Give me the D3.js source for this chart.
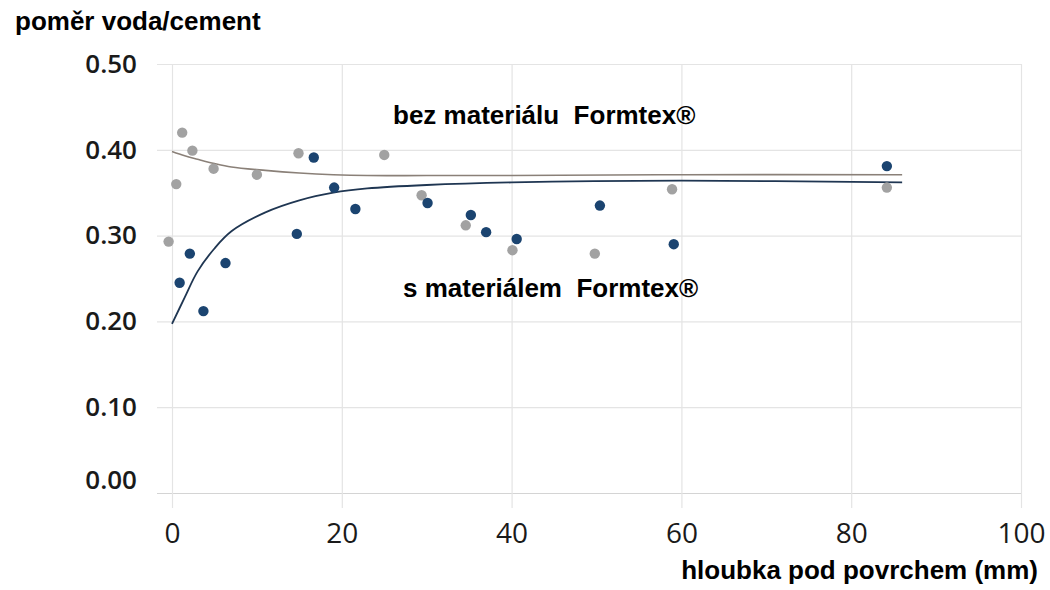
<!DOCTYPE html>
<html>
<head>
<meta charset="utf-8">
<script src="https://cdn.jsdelivr.net/npm/d3@7"></script>
<style>
    body { margin: 0; background: #fff; }
    svg { display: block; }
</style>
</head>
<body>
<div id="chart"></div>
<script>
/*
    Measured values: depth below surface (mm) and water/cement ratio
*/
var depthWithout = [-0.4, 0.5, 1.2, 2.4, 4.9, 10.0, 14.9, 25.0, 29.4, 34.6, 40.1, 49.8, 58.9, 84.2];
var ratioWithout = [0.293, 0.360, 0.420, 0.399, 0.378, 0.371, 0.396, 0.394, 0.347, 0.312, 0.283, 0.279, 0.354, 0.356];

var depthWith = [0.9, 2.1, 3.7, 6.3, 14.7, 16.7, 19.1, 21.6, 30.1, 35.2, 37.0, 40.6, 50.4, 59.1, 84.2];
var ratioWith = [0.245, 0.279, 0.212, 0.268, 0.302, 0.391, 0.356, 0.331, 0.338, 0.324, 0.304, 0.296, 0.335, 0.290, 0.381];
/*
    Trend curves
*/
var trendDepth = [0, 1.5, 3, 5, 7, 11, 15, 19, 23, 30, 40, 60, 86];
var trendWithout = [0.398, 0.393, 0.389, 0.384, 0.380, 0.376, 0.373, 0.371, 0.370, 0.370, 0.370, 0.371, 0.371];
var trendWith = [0.197, 0.228, 0.258, 0.285, 0.305, 0.327, 0.341, 0.350, 0.355, 0.359, 0.362, 0.364, 0.362];
/*
    Tick labels
*/
var xTicks = [0, 20, 40, 60, 80, 100];
var yTicks = [0, 0.1, 0.2, 0.3, 0.4, 0.5];

var W = 1050, H = 590;
var gridLeft = 157, gridBottom = 508;

var x = d3.scaleLinear().domain([0, 100]).range([172, 1021]);
var y = d3.scaleLinear().domain([0, 0.5]).range([493, 64]);

var svg = d3.select("#chart").append("svg")
    .attr("width", W)
    .attr("height", H);

/*
    Axes with grid lines
*/
var yAxis = d3.axisLeft(y)
    .tickValues(yTicks)
    .tickFormat(d3.format(".2f"))
    .tickSize(-(x(100) - gridLeft))
    .tickPadding(20);

var gy = svg.append("g")
    .attr("transform", "translate(" + gridLeft + ",0)")
    .call(yAxis);
gy.select(".domain").remove();
gy.selectAll("line")
    .attr("stroke", function (d) { return d === 0 ? "#d4d4d4" : "#e4e4e4"; })
    .attr("stroke-width", 1.2);
gy.selectAll("text")
    .attr("fill", "#1a1a1a")
    .style("font-family", "'Open Sans', sans-serif")
    .style("font-weight", 600)
    .style("font-size", "26px")
    .attr("dy", function (d) { return d === 0 ? "-0.18em" : "0.32em"; });

var xAxis = d3.axisBottom(x)
    .tickValues(xTicks)
    .tickFormat(d3.format("d"))
    .tickSize(-(gridBottom - 64))
    .tickPadding(15);

var gx = svg.append("g")
    .attr("transform", "translate(0," + gridBottom + ")")
    .call(xAxis);
gx.select(".domain").remove();
gx.selectAll("line")
    .attr("stroke", "#e4e4e4")
    .attr("stroke-width", 1.2);
gx.selectAll("text")
    .attr("fill", "#1a1a1a")
    .style("font-family", "'Open Sans', sans-serif")
    .style("font-weight", 400)
    .style("font-size", "28px");

/*
    Trend lines
*/
var line = d3.line()
    .x(function (d) { return x(d[0]); })
    .y(function (d) { return y(d[1]); })
    .curve(d3.curveCatmullRom.alpha(0.5));

svg.append("path")
    .datum(d3.zip(trendDepth, trendWithout))
    .attr("d", line)
    .attr("fill", "none")
    .attr("stroke", "#8a8078")
    .attr("stroke-width", 1.6);

svg.append("path")
    .datum(d3.zip(trendDepth, trendWith))
    .attr("d", line)
    .attr("fill", "none")
    .attr("stroke", "#1f3652")
    .attr("stroke-width", 1.8);

/*
    Points
*/
svg.append("g")
    .selectAll("circle")
    .data(d3.zip(depthWithout, ratioWithout))
    .enter()
    .append("circle")
    .attr("cx", function (d) { return x(d[0]); })
    .attr("cy", function (d) { return y(d[1]); })
    .attr("r", 5.2)
    .attr("fill", "#a2a2a2");

svg.append("g")
    .selectAll("circle")
    .data(d3.zip(depthWith, ratioWith))
    .enter()
    .append("circle")
    .attr("cx", function (d) { return x(d[0]); })
    .attr("cy", function (d) { return y(d[1]); })
    .attr("r", 5.2)
    .attr("fill", "#1b4470");

/*
    Titles and labels
*/
function label(txt, px, py, anchor) {
    svg.append("text")
        .attr("x", px)
        .attr("y", py)
        .attr("text-anchor", anchor || "start")
        .style("font-family", "'Liberation Sans', Arial, sans-serif")
        .style("font-weight", "bold")
        .style("font-size", "26px")
        .style("white-space", "pre")
        .attr("fill", "#000")
        .text(txt);
}

label("poměr voda/cement", 15, 30);
label("hloubka pod povrchem (mm)", 1038, 579, "end");
label("bez materiálu  Formtex®", 393, 124);
label("s materiálem  Formtex®", 403, 297);
</script>
</body>
</html>
